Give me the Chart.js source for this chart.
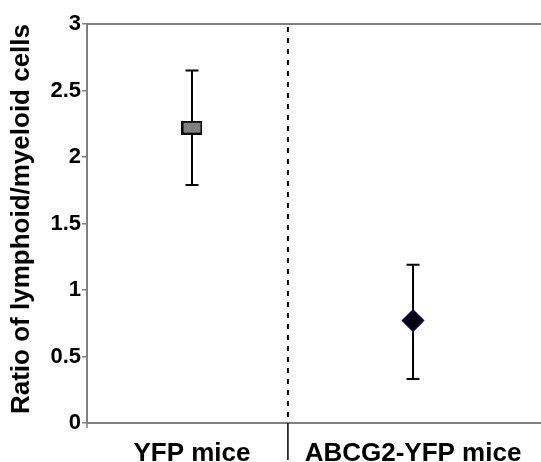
<!DOCTYPE html>
<html>
<head>
<meta charset="utf-8">
<title>Ratio of lymphoid/myeloid cells</title>
<script src="https://cdn.jsdelivr.net/npm/chart.js@4/dist/chart.umd.min.js"></script>
<style>
  html, body { margin: 0; padding: 0; background: #fff; }
  #wrap { width: 541px; height: 462px; position: relative; }
</style>
</head>
<body>
<div id="wrap"><canvas id="ratio-chart" width="541" height="462"></canvas></div>
<script>
const groups = ["YFP mice", "ABCG2-YFP mice"];
const ratioMean = [2.22, 0.77];
const errLow = [1.79, 0.33];
const errHigh = [2.65, 1.19];
const yTickValues = [0, 0.5, 1, 1.5, 2, 2.5, 3];
const yTickLabels = ["0", "0.5", "1", "1.5", "2", "2.5", "3"];
const yTitle = "Ratio of lymphoid/myeloid cells";

document.addEventListener("DOMContentLoaded", () => {
  const axisGray = "#808080";
  const fontFamily = "'Liberation Sans', Arial, sans-serif";

  // grey box marker for the first group
  const boxMarker = document.createElement("canvas");
  boxMarker.width = 21;
  boxMarker.height = 14;
  const bctx = boxMarker.getContext("2d");
  bctx.fillStyle = "#808080";
  bctx.fillRect(0, 0, 21, 14);
  bctx.strokeStyle = "#000";
  bctx.lineWidth = 2;
  bctx.strokeRect(1, 1, 19, 12);

  // error bars, top frame line, group divider and the axis title
  const decorations = {
    id: "decorations",
    beforeDatasetsDraw(chart) {
      const { ctx, chartArea, scales } = chart;
      const x = scales.x;
      const y = scales.y;
      ctx.save();

      ctx.strokeStyle = axisGray;
      ctx.lineWidth = 2;
      ctx.beginPath();
      ctx.moveTo(chartArea.left - 1, chartArea.top);
      ctx.lineTo(chartArea.right, chartArea.top);
      ctx.stroke();

      // small tick under the axis corner
      ctx.lineWidth = 1.5;
      ctx.beginPath();
      ctx.moveTo(chartArea.left, chartArea.bottom);
      ctx.lineTo(chartArea.left, chartArea.bottom + 5);
      ctx.stroke();

      const divX = x.getPixelForValue(0.434);
      ctx.strokeStyle = "#000";
      ctx.lineWidth = 2;
      ctx.setLineDash([5, 6]);
      ctx.beginPath();
      ctx.moveTo(divX, chartArea.top + 3);
      ctx.lineTo(divX, chartArea.bottom);
      ctx.stroke();
      ctx.setLineDash([]);
      ctx.lineWidth = 1.5;
      ctx.beginPath();
      ctx.moveTo(divX, chartArea.bottom);
      ctx.lineTo(divX, chartArea.bottom + 37);
      ctx.stroke();

      ctx.strokeStyle = "#000";
      ctx.lineWidth = 2;
      groups.forEach((g, i) => {
        const px = x.getPixelForValue(i);
        const top = y.getPixelForValue(errHigh[i]);
        const bottom = y.getPixelForValue(errLow[i]);
        ctx.beginPath();
        ctx.moveTo(px, top);
        ctx.lineTo(px, bottom);
        ctx.moveTo(px - 6.5, top);
        ctx.lineTo(px + 6.5, top);
        ctx.moveTo(px - 6.5, bottom);
        ctx.lineTo(px + 6.5, bottom);
        ctx.stroke();
      });

      ctx.translate(22, 219);
      ctx.rotate(-Math.PI / 2);
      ctx.fillStyle = "#000";
      ctx.font = "bold 26px " + fontFamily;
      ctx.textAlign = "center";
      ctx.textBaseline = "middle";
      ctx.fillText(yTitle, 0, 0);
      ctx.restore();
    }
  };

  new Chart(document.getElementById("ratio-chart"), {
    type: "scatter",
    data: {
      datasets: [{
        data: ratioMean.map((v, i) => ({ x: i, y: v })),
        pointStyle: [boxMarker, "rectRot"],
        pointRadius: [10, 10.5],
        pointHoverRadius: [10, 10.5],
        backgroundColor: ["#808080", "#000000"],
        borderColor: ["#000000", "#000080"],
        borderWidth: [0, 1.5]
      }]
    },
    options: {
      responsive: false,
      animation: false,
      layout: { autoPadding: false, padding: { top: 24, right: 0, left: 0, bottom: 0 } },
      plugins: {
        legend: { display: false },
        tooltip: { enabled: false }
      },
      scales: {
        x: {
          type: "linear",
          min: -0.475,
          max: 1.579,
          afterBuildTicks: (scale) => { scale.ticks = groups.map((g, i) => ({ value: i })); },
          afterFit: (scale) => { scale.height = 39; },
          grid: { display: false },
          border: { display: true, color: axisGray, width: 2 },
          ticks: {
            color: "#000",
            padding: 7,
            maxRotation: 0,
            autoSkip: false,
            font: { family: fontFamily, size: 26, weight: "bold" },
            callback: (value) => groups[value]
          }
        },
        y: {
          min: 0,
          max: 3,
          afterBuildTicks: (scale) => { scale.ticks = yTickValues.map(v => ({ value: v })); },
          afterFit: (scale) => { scale.width = 87; },
          grid: { drawOnChartArea: false, drawTicks: true, tickLength: 5, color: axisGray, lineWidth: 1.5 },
          border: { display: true, color: axisGray, width: 2 },
          ticks: {
            color: "#000",
            padding: 1,
            font: { family: fontFamily, size: 22, weight: "bold" },
            callback: (value) => yTickLabels[yTickValues.indexOf(value)]
          }
        }
      }
    },
    plugins: [decorations]
  });
});
</script>
</body>
</html>
